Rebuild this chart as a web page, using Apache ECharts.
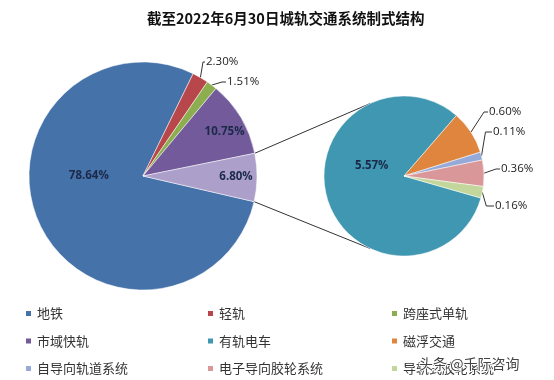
<!DOCTYPE html>
<html>
<head>
<meta charset="utf-8">
<script src="https://cdn.jsdelivr.net/npm/echarts@6/dist/echarts.min.js"></script>
<style>html,body{margin:0;padding:0;background:#fff}#c{width:554px;height:380px}</style>
</head>
<body>
<div id="c"></div>
<script>
// ---- data ----
const titleText = '截至2022年6月30日城轨交通系统制式结构';
const legendCol1 = ['地铁', '市域快轨', '自导向轨道系统'];
const legendCol2 = ['轻轨', '有轨电车', '电子导向胶轮系统'];
const legendCol3 = ['跨座式单轨', '磁浮交通', '导轨式胶轮系统'];
const mainNames = ['地铁', '轻轨', '跨座式单轨', '市域快轨', '其他制式'];
const mainValues = [78.64, 2.30, 1.51, 10.75, 6.80];
const subNames = ['有轨电车', '磁浮交通', '自导向轨道系统', '电子导向胶轮系统', '导轨式胶轮系统'];
const subValues = [5.57, 0.60, 0.11, 0.36, 0.16];
const watermark = '头条 @千际咨询';

// ---- styles / layout ----
const colorMap = {
  '地铁': '#4672AA', '轻轨': '#B7474A', '跨座式单轨': '#8CAE4E', '市域快轨': '#735A9A',
  '其他制式': '#AC9FCA', '有轨电车': '#3F97B1', '磁浮交通': '#E0853D',
  '自导向轨道系统': '#95AAD8', '电子导向胶轮系统': '#D9979A', '导轨式胶轮系统': '#C3D79D'
};
const MAIN_C = [143, 176], MAIN_R = 114, MAIN_START = -13;
const SUB_C = [404, 176], SUB_R = 80, SUB_START = -16;
const numFont = 'Open Sans';
const cjkFont = 'Noto Sans CJK SC';

const fmt = p => Number(p.value).toFixed(2) + '%';
// inside label nudges (style)
const insideOffsets = { '地铁': [0, -26], '市域快轨': [30, -14], '其他制式': [33, 0], '有轨电车': [9, -23] };
// outside label anchor [left x, middle y, elbow?] (style / layout)
const outsideAnchors = {
  '轻轨': [206, 62, true], '跨座式单轨': [227, 82, false],
  '磁浮交通': [489, 112, false], '自导向轨道系统': [493, 132, true],
  '电子导向胶轮系统': [501, 169, false], '导轨式胶轮系统': [495, 206, true]
};

function buildData(names, values) {
  return names.map((n, i) => {
    const v = values[i];
    const item = { name: n, value: v, itemStyle: { color: colorMap[n] } };
    if (outsideAnchors[n]) {
      item.label = { position: 'outside', color: '#222', fontWeight: 'normal' };
      item.labelLine = { show: true };
    } else {
      item.label = { position: 'inside', color: '#1c2a4a', fontWeight: 'bold', offset: insideOffsets[n] || [0, 0] };
      item.labelLine = { show: false };
    }
    return item;
  });
}

function layoutOutside(names) {
  return function (params) {
    const n = names[params.dataIndex];
    const a = outsideAnchors[n];
    if (!a || !params.labelLinePoints) return {};
    const e = params.labelLinePoints[0];
    const mid = a[2] ? [Math.min(e[0] + 4, a[0] - 3), a[1]] : [a[0] - 5, a[1]];
    return {
      x: a[0], y: a[1], align: 'left', verticalAlign: 'middle',
      labelLinePoints: [[e[0], e[1]], mid, [a[0] - 1, a[1]]]
    };
  };
}

function pt(c, r, deg) {
  const a = deg * Math.PI / 180;
  return [c[0] + r * Math.cos(a), c[1] - r * Math.sin(a)];
}
const mainTotal = mainValues.reduce((a, b) => a + b, 0);
const otherSpan = 360 * mainValues[mainValues.length - 1] / mainTotal;
const pA = pt(MAIN_C, MAIN_R, MAIN_START + otherSpan);
const pB = pt(MAIN_C, MAIN_R, MAIN_START);
const qA = pt(SUB_C, SUB_R, 115);
const qB = pt(SUB_C, SUB_R, -115);

const legendBase = {
  orient: 'vertical', icon: 'rect', itemWidth: 7, itemHeight: 7, itemGap: 14.5,
  textStyle: { fontFamily: cjkFont, fontSize: 13, color: '#333', lineHeight: 13 },
  padding: 0, selectedMode: false, top: 307
};

const chart = echarts.init(document.getElementById('c'));
chart.setOption({
  animation: false,
  title: {
    text: titleText, left: 147, top: 11, padding: 0,
    textStyle: { fontFamily: cjkFont, fontSize: 14.5, fontWeight: 'bold', color: '#111' }
  },
  legend: [
    Object.assign({ left: 24, data: legendCol1 }, legendBase),
    Object.assign({ left: 206, data: legendCol2 }, legendBase),
    Object.assign({ left: 390, data: legendCol3 }, legendBase)
  ],
  series: [
    {
      type: 'pie', center: MAIN_C, radius: [0, MAIN_R], startAngle: MAIN_START,
      silent: true, avoidLabelOverlap: false,
      itemStyle: { borderColor: '#fff', borderWidth: 0.5 },
      label: { formatter: fmt, fontFamily: numFont, fontSize: 11.5 },
      labelLine: { length: 8, length2: 6, lineStyle: { color: '#333', width: 1 } },
      labelLayout: layoutOutside(mainNames),
      data: buildData(mainNames, mainValues)
    },
    {
      type: 'pie', center: SUB_C, radius: [0, SUB_R], startAngle: SUB_START,
      silent: true, avoidLabelOverlap: false,
      itemStyle: { borderColor: '#fff', borderWidth: 0.5 },
      label: { formatter: fmt, fontFamily: numFont, fontSize: 11.5 },
      labelLine: { length: 8, length2: 6, lineStyle: { color: '#333', width: 1 } },
      labelLayout: layoutOutside(subNames),
      data: buildData(subNames, subValues)
    }
  ],
  graphic: [
    { type: 'line', shape: { x1: pA[0], y1: pA[1], x2: qA[0], y2: qA[1] }, style: { stroke: '#333', lineWidth: 1 }, silent: true },
    { type: 'line', shape: { x1: pB[0], y1: pB[1], x2: qB[0], y2: qB[1] }, style: { stroke: '#333', lineWidth: 1 }, silent: true },
    { type: 'text', left: 418, top: 356, z: 100, silent: true,
      style: { text: watermark, font: '14px "Noto Sans CJK SC"', fill: '#444', stroke: '#fff', lineWidth: 2 } }
  ]
});
</script>
</body>
</html>
